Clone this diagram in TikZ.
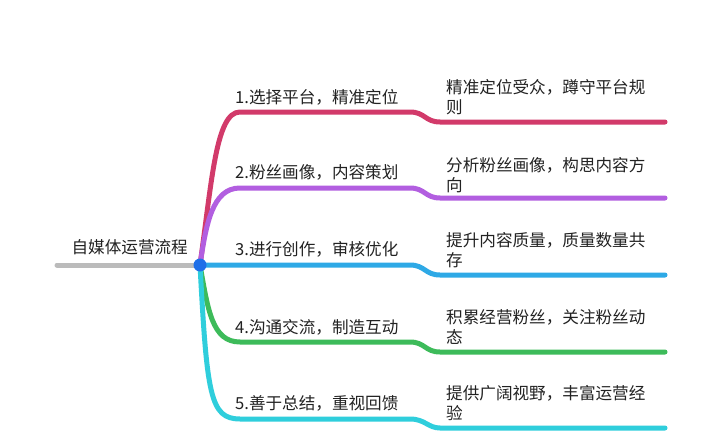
\documentclass[tikz,border=0pt]{standalone}
\usepackage{fontspec}
\setmainfont{Noto Sans CJK SC}
\definecolor{cred}{HTML}{D23A6A}
\definecolor{cpurple}{HTML}{B25EE0}
\definecolor{cblue}{HTML}{2EA9E6}
\definecolor{cgreen}{HTML}{3DBB5A}
\definecolor{ccyan}{HTML}{2FCEDC}
\definecolor{cgray}{HTML}{BBBBBB}
\definecolor{cdot}{HTML}{1F6FE8}
\definecolor{ctext}{HTML}{222222}
\begin{document}
\begin{tikzpicture}[x=1pt,y=-1pt,
  branch/.style={line width=5pt,line cap=round},
  lbl/.style={inner sep=0pt,anchor=west,text=ctext,font=\fontsize{16.6}{20}\selectfont},
  desc/.style={inner sep=0pt,anchor=north west,align=left,text=ctext,font=\fontsize{16.6}{20}\selectfont}]
\useasboundingbox (0,0) rectangle (720,444);
\fill[white] (0,0) rectangle (720,444);
% root
\coordinate (start) at (57,265);
\coordinate (hub) at (200,265);
\node[lbl,anchor=east] (root) at (188,247) {自媒体运营流程};
\draw[branch,cgray] (start) -- (hub);
% coordinates
\coordinate (a1) at (240,112); \coordinate (b1) at (410,112); \coordinate (c1) at (440,122); \coordinate (d1) at (665,122);
\coordinate (a2) at (240,188); \coordinate (b2) at (410,188); \coordinate (c2) at (440,198); \coordinate (d2) at (665,198);
\coordinate (a3) at (240,265); \coordinate (b3) at (410,265); \coordinate (c3) at (440,275); \coordinate (d3) at (665,275);
\coordinate (a4) at (240,342); \coordinate (b4) at (410,342); \coordinate (c4) at (440,352); \coordinate (d4) at (665,352);
\coordinate (a5) at (240,419); \coordinate (b5) at (410,419); \coordinate (c5) at (440,428); \coordinate (d5) at (665,428);
% branches
\draw[branch,cred] (hub) .. controls (212,180) and (216,112) .. (a1) -- (b1) .. controls (425,112) and (425,122) .. (c1) -- (d1);
\draw[branch,cpurple] (hub) .. controls (206,225) and (212,188) .. (a2) -- (b2) .. controls (425,188) and (425,198) .. (c2) -- (d2);
\draw[branch,cblue] (hub) -- (a3) -- (b3) .. controls (425,265) and (425,275) .. (c3) -- (d3);
\draw[branch,cgreen] (hub) .. controls (208,310) and (212,342) .. (a4) -- (b4) .. controls (425,342) and (425,352) .. (c4) -- (d4);
\draw[branch,ccyan] (hub) .. controls (207,395) and (210,419) .. (a5) -- (b5) .. controls (425,419) and (428,428) .. (c5) -- (d5);
\fill[cdot] (hub) circle (6.5);
% labels
\node[lbl] (l1) at (235,97) {1.选择平台，精准定位};
\node[lbl] (l2) at (235,172) {2.粉丝画像，内容策划};
\node[lbl] (l3) at (235,249) {3.进行创作，审核优化};
\node[lbl] (l4) at (235,327) {4.沟通交流，制造互动};
\node[lbl] (l5) at (235,403) {5.善于总结，重视回馈};
\node[desc] (r1) at (446,79) {精准定位受众，蹲守平台规\\则};
\node[desc] (r2) at (446,157) {分析粉丝画像，构思内容方\\向};
\node[desc] (r3) at (446,232) {提升内容质量，质量数量共\\存};
\node[desc] (r4) at (446,309) {积累经营粉丝，关注粉丝动\\态};
\node[desc] (r5) at (446,385) {提供广阔视野，丰富运营经\\验};
\end{tikzpicture}
\end{document}
